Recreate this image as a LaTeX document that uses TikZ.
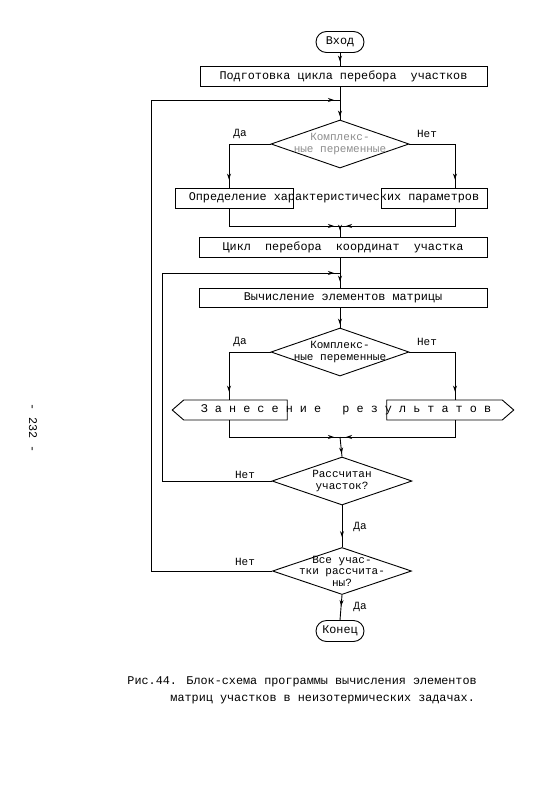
\documentclass[tikz,border=0pt]{standalone}
\usepackage{fontspec}
\setmainfont{Liberation Mono}
\usetikzlibrary{shapes.geometric,shapes.symbols,shapes.misc,decorations.markings,arrows.meta}
\begin{document}
\begin{tikzpicture}[x=1pt,y=-1pt, line width=0.9pt,
  every node/.style={font=\fontsize{11.8}{12}\selectfont},
  boxnode/.style={draw, rectangle, minimum height=20pt, inner sep=0pt},
  term/.style={draw, rounded rectangle, minimum width=48pt, minimum height=21pt, inner sep=0pt},
  dia/.style={draw, diamond, minimum width=138pt, minimum height=48pt, inner sep=0pt},
  dtext/.style={align=center, inner sep=0pt, font=\fontsize{11}{11.5}\selectfont},
  hexl/.style={draw, signal, signal to=west, signal from=nowhere, signal pointer angle=82, minimum height=20pt, inner sep=0pt},
  hexr/.style={draw, signal, signal to=east, signal from=nowhere, signal pointer angle=82, minimum height=20pt, inner sep=0pt},
  lbl/.style={inner sep=0pt, font=\fontsize{11}{12}\selectfont},
  arr/.style={postaction={decorate,decoration={markings,mark=at position #1 with {\arrow{Stealth[length=6pt,width=4pt]}}}}},
  arr/.default=-3pt]
\useasboundingbox (0,0) rectangle (554,800);

\coordinate (ax) at (340,0);
\coordinate (xL) at (229,0);
\coordinate (xR) at (455,0);
\coordinate (xo1) at (151,0);
\coordinate (xo2) at (162,0);
\coordinate (m1) at (340,100);
\coordinate (m2) at (340,273);
\coordinate (j1) at (340,226);
\coordinate (j2) at (340,437);

\node[term] (start) at (340,42) {Вход};
\node[boxnode, minimum width=287pt] (b1) at (343.5,76) {Подготовка цикла перебора~~участков};
\node[dia, label={[dtext, text=black!45]center:Комплекс-\\ные переменные}] (d1) at (340,144) {};
\node[boxnode, minimum width=118pt] (bl) at (234,198) {};
\node[boxnode, minimum width=106pt] (br) at (434,198) {};
\node[inner sep=0pt] (tdef) at (334,198) {Определение характеристических параметров};
\node[boxnode, minimum width=288pt] (b2) at (343,247) {Цикл~~перебора~~координат~~участка};
\node[boxnode, minimum width=288pt, minimum height=19pt] (b3) at (343,297.5) {Вычисление элементов матрицы};
\node[dia, label={[dtext]center:Комплекс-\\ные переменные}] (d2) at (340,352) {};
\node[hexl, minimum width=115pt] (hl) at (235.5,410) {};
\node[hexr, minimum width=127pt] (hr) at (444.5,410) {};
\node[inner sep=0pt] (tres) at (346,410) {З~а~н~е~с~е~н~и~е~~~р~е~з~у~л~ь~т~а~т~о~в};
\node[dia, minimum width=140pt, label={[dtext]center:Рассчитан\\участок?}] (d3) at (342,481) {};
\node[dia, minimum width=139pt, minimum height=47pt, label={[dtext]center:Все учас-\\тки рассчита-\\ны?}] (d4) at (342,571) {};
\node[term] (endn) at (340,631) {Конец};

% labels
\node[lbl] (l1) at (240,134) {Да};
\node[lbl] (l2) at (427,134) {Нет};
\node[lbl] (l3) at (240,342) {Да};
\node[lbl] (l4) at (427,342) {Нет};
\node[lbl] (l5) at (245,475) {Нет};
\node[lbl] (l6) at (360,527) {Да};
\node[lbl] (l7) at (245,562) {Нет};
\node[lbl] (l8) at (360,607) {Да};

% connectors
\draw[arr=-4pt] (start.south) -- (start.south |- b1.north);
\draw[arr=-3pt] (b1.south -| ax) -- (d1.north);
\draw[arr=-8pt] (d1.west) -| (bl.north -| xL);
\draw[arr=-8pt] (d1.east) -| (br.north -| xR);
\draw[arr=-6pt] (bl.south -| xL) |- (j1);
\draw[arr=-6pt] (br.south -| xR) |- (j1);
\draw[arr=-6pt] (j1) -- (b2.north -| ax);
\draw[arr=-6pt] (b2.south -| ax) -- (b3.north -| ax);
\draw[arr=-3pt] (b3.south -| ax) -- (d2.north);
\draw[arr=-8pt] (d2.west) -| (hl.north -| xL);
\draw[arr=-8pt] (d2.east) -| (hr.north -| xR);
\draw[arr=-6pt] (hl.south -| xL) |- (j2);
\draw[arr=-6pt] (hr.south -| xR) |- (j2);
\draw[arr=-3pt] (j2) -- (d3.north);
\draw[arr=-10pt] (d3.south) -- (d4.north);
\draw[arr=-14pt] (d4.south) -- (endn.north);
\draw[arr=-6pt] (d3.west) -- (d3.west -| xo2) -- (m2 -| xo2) -- (m2);
\draw[arr=-6pt] (d4.west) -- (d4.west -| xo1) -- (m1 -| xo1) -- (m1);

% caption and page number
\node[anchor=west, inner sep=0pt] (cap1) at (127,682) {Рис.44. Блок-схема программы вычисления элементов};
\node[anchor=west, inner sep=0pt] (cap2) at (170,700) {матриц участков в неизотермических задачах.};
\node[rotate=-90, inner sep=0pt] (pg) at (33,428) {- 232 -};
\end{tikzpicture}
\end{document}
